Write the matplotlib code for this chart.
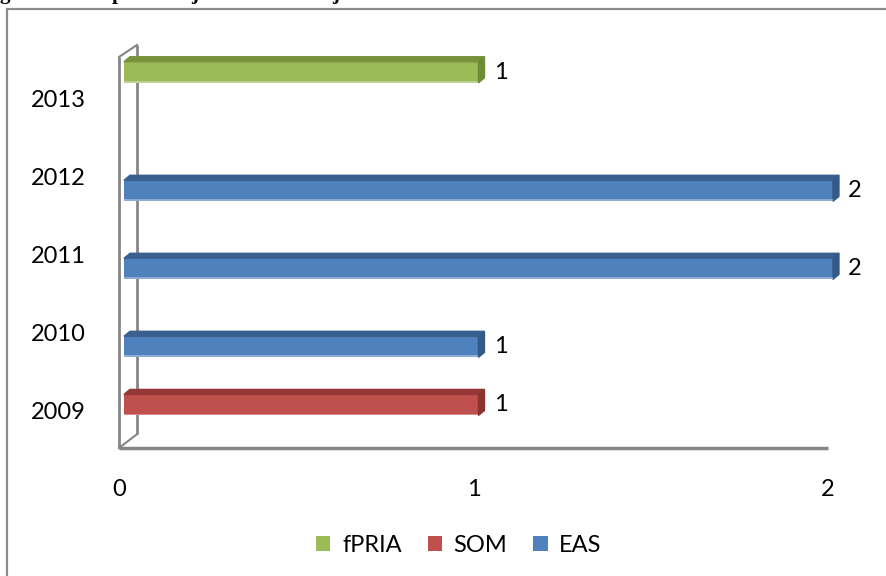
import numpy as np
import matplotlib
matplotlib.use("Agg")
import matplotlib.pyplot as plt
from matplotlib.patches import Polygon, Rectangle, Patch

plt.rcParams['font.family'] = ['Lato', 'DejaVu Sans']

# data
years = ['2009', '2010', '2011', '2012', '2013']
series = ['fPRIA', 'SOM', 'EAS']
fpria = [0, 0, 0, 0, 1]
som = [1, 0, 0, 0, 0]
eas = [0, 1, 2, 2, 0]

colors = {'fPRIA': ('#9BBB59', '#76923C', '#6E8A37'),
          'SOM': ('#C0504D', '#953735', '#8A3331'),
          'EAS': ('#4F81BD', '#3A6090', '#345A88')}
offsets = {'fPRIA': 0.33, 'SOM': 0.065, 'EAS': -0.19}

W, H = 887, 576
fig = plt.figure(figsize=(W / 100, H / 100), dpi=100)

# axes placed so that x=0 sits on the front wall line, y categories on the labels
px_unit_y = 78.0
y_lo, y_hi = -0.487, 4.70
ax = fig.add_axes([119 / W, (H - 448) / H, 709 / W, (448 - 43.4) / H])
ax.set_xlim(0, 2)
ax.set_ylim(y_lo, y_hi)
for s in ax.spines.values():
    s.set_visible(False)

dx = 6 / 354.5          # depth of the bars (3d look)
dy = 5 / px_unit_y
x0 = 0.014
bh = 0.27

wall = '#868686'
wx = 18 / 354.5
ax.plot([0, 0], [y_lo, 4.526], color=wall, lw=2, clip_on=False, solid_capstyle='butt')
ax.plot([wx, wx], [-0.31, 4.68], color=wall, lw=2, clip_on=False, solid_capstyle='butt')
ax.plot([0, wx], [4.526, 4.68], color=wall, lw=1.5, clip_on=False)
ax.plot([0, wx], [y_lo, -0.31], color=wall, lw=1.5, clip_on=False)
ax.plot([0, 2.0], [y_lo, y_lo], color=wall, lw=2.5, clip_on=False, solid_capstyle='butt')

yy = np.arange(len(years))
for name, vals in zip(series, [fpria, som, eas]):
    front, top, side = colors[name]
    for y, v in zip(yy, vals):
        if v == 0:
            continue
        yc = y + offsets[name]
        b, t = yc - bh / 2, yc + bh / 2
        x1 = v + x0
        ax.barh(yc, v, left=x0, height=bh, color=front, zorder=3, clip_on=False)
        ax.barh(b + 0.012, v, left=x0, height=0.024, color='white', alpha=0.35,
                zorder=4, clip_on=False)
        ax.add_patch(Polygon([[x0, t], [x0 + dx, t + dy], [x1 + dx, t + dy], [x1, t]],
                             closed=True, color=top, zorder=3, clip_on=False))
        ax.add_patch(Polygon([[x1, t], [x1 + dx, t + dy], [x1 + dx, b + dy], [x1, b]],
                             closed=True, color=side, zorder=3, clip_on=False))
        ax.text(x1 + 0.062, yc, str(v), va='center', ha='center', fontsize=17,
                color='black', clip_on=False)

ax.set_yticks(yy)
ax.set_yticklabels(years, fontsize=17)
ax.set_xticks([0, 1, 2])
ax.set_xticklabels(['0', '1', '2'], fontsize=17)
ax.tick_params(axis='y', length=0, pad=24)
ax.tick_params(axis='x', length=0, pad=22)

handles = [Patch(facecolor=colors[n][0], label=n) for n in series]
fig.legend(handles=handles, loc='center', bbox_to_anchor=(459 / W, (H - 545) / H),
           ncol=3, frameon=False, fontsize=17, handlelength=0.6, handleheight=0.6,
           handletextpad=0.5, columnspacing=1.1)

# outer chart frame (runs past the right and bottom edges)
fig.add_artist(Rectangle((7 / W, -0.1), 1.2, (H - 8.5) / H + 0.1, transform=fig.transFigure,
                         fill=False, edgecolor='#8C8C8C', lw=1.6))

# title cut off above the picture: only the descenders show
for xp, ch in [(0, 'g'), (112, 'p'), (191, 'j'), (332, 'j')]:
    fig.text(xp / W, 1 + 1.5 / H, ch, va='baseline', ha='left', fontsize=15,
             fontweight='bold', family='Liberation Serif', color='black')

fig.savefig('out.png', dpi=100)
